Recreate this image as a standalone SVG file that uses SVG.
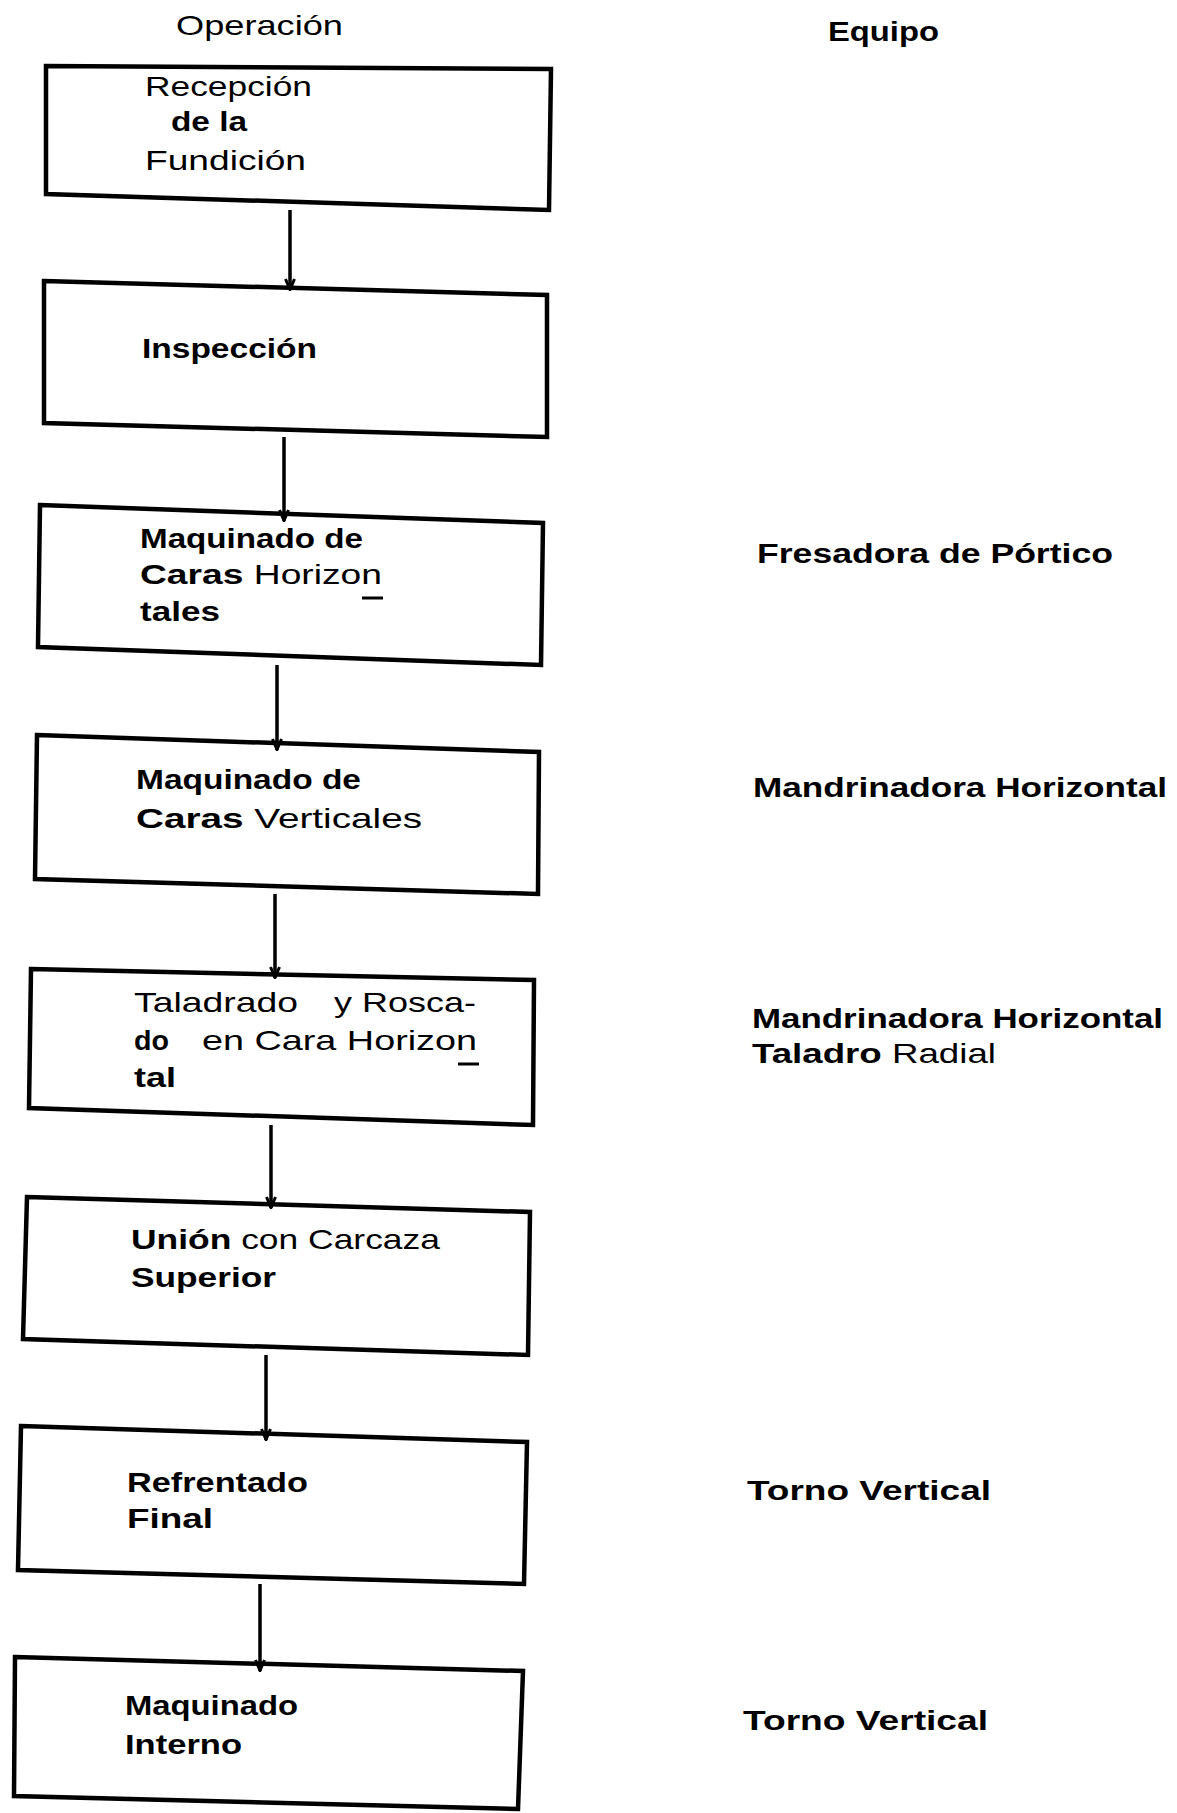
<svg xmlns="http://www.w3.org/2000/svg" width="1177" height="1813" viewBox="0 0 1177 1813">
  <style>
    .box { fill: none; stroke: #000; stroke-width: 4.5; stroke-linejoin: miter; }
    .arrow { stroke: #000; stroke-width: 3.5; fill: none; }
    text { font-family: "Liberation Sans", Arial, sans-serif; font-size: 28px; fill: #000; }
    .b { font-weight: bold; }
    .u { stroke: #000; stroke-width: 3; }
  </style>
  <defs>
    <!-- open V arrowhead, drawn pointing along +x so orient="auto" turns it down the line -->
    <marker id="head" viewBox="0 0 14 12" refX="13" refY="6" markerWidth="14" markerHeight="12" markerUnits="userSpaceOnUse" orient="auto">
      <path d="M2,1.5 L12.5,6 L2,10.5" fill="none" stroke="#000" stroke-width="3"/>
    </marker>
  </defs>
  <rect width="1177" height="1813" fill="#fff"/>

  <!-- column headings -->
  <text id="hdr-operacion" x="176" y="35" textLength="167" lengthAdjust="spacingAndGlyphs">Operación</text>
  <text id="hdr-equipo" class="b" x="828" y="41" textLength="111" lengthAdjust="spacingAndGlyphs">Equipo</text>

  <!-- connectors -->
  <g id="connectors">
    <line class="arrow" x1="290" y1="210" x2="290" y2="290" marker-end="url(#head)"/>
    <line class="arrow" x1="284" y1="437" x2="284" y2="521" marker-end="url(#head)"/>
    <line class="arrow" x1="277" y1="665" x2="277" y2="750" marker-end="url(#head)"/>
    <line class="arrow" x1="275" y1="894" x2="275" y2="978" marker-end="url(#head)"/>
    <line class="arrow" x1="271" y1="1125" x2="271" y2="1208" marker-end="url(#head)"/>
    <line class="arrow" x1="266" y1="1355" x2="266" y2="1440" marker-end="url(#head)"/>
    <line class="arrow" x1="260" y1="1584" x2="260" y2="1671" marker-end="url(#head)"/>
  </g>

  <g id="op1">
    <polygon class="box" points="46,66 551,69 549,210 46,194"/>
    <text x="145" y="96" textLength="167" lengthAdjust="spacingAndGlyphs">Recepción</text>
    <text class="b" x="171" y="131" textLength="76" lengthAdjust="spacingAndGlyphs">de la</text>
    <text x="145" y="170" textLength="161" lengthAdjust="spacingAndGlyphs">Fundición</text>
  </g>

  <g id="op2">
    <polygon class="box" points="44,281 547,295 547,437 44,423"/>
    <text class="b" x="142" y="358" textLength="175" lengthAdjust="spacingAndGlyphs">Inspección</text>
  </g>

  <g id="op3">
    <polygon class="box" points="40,505 543,523 541,665 38,647"/>
    <text class="b" x="140" y="548" textLength="223" lengthAdjust="spacingAndGlyphs">Maquinado de</text>
    <text x="140" y="584" textLength="242" lengthAdjust="spacingAndGlyphs"><tspan class="b">Caras</tspan> Horizon</text>
    <line class="u" x1="362" y1="598" x2="383" y2="598"/>
    <text class="b" x="140" y="621" textLength="80" lengthAdjust="spacingAndGlyphs">tales</text>
  </g>

  <g id="op4">
    <polygon class="box" points="37,735 539,752 538,894 35,879"/>
    <text class="b" x="136" y="789" textLength="225" lengthAdjust="spacingAndGlyphs">Maquinado de</text>
    <text x="136" y="828" textLength="286" lengthAdjust="spacingAndGlyphs"><tspan class="b">Caras</tspan> Verticales</text>
  </g>

  <g id="op5">
    <polygon class="box" points="31,969 534,980 533,1125 29,1108"/>
    <text x="134" y="1012" textLength="164" lengthAdjust="spacingAndGlyphs">Taladrado</text>
    <text x="334" y="1012" textLength="142" lengthAdjust="spacingAndGlyphs">y Rosca-</text>
    <text class="b" x="134" y="1050" textLength="35" lengthAdjust="spacingAndGlyphs">do</text>
    <text x="202" y="1050" textLength="275" lengthAdjust="spacingAndGlyphs">en Cara Horizon</text>
    <line class="u" x1="458" y1="1064" x2="479" y2="1064"/>
    <text class="b" x="134" y="1087" textLength="42" lengthAdjust="spacingAndGlyphs">tal</text>
  </g>

  <g id="op6">
    <polygon class="box" points="27,1197 530,1212 528,1355 23,1339"/>
    <text x="131" y="1249" textLength="309" lengthAdjust="spacingAndGlyphs"><tspan class="b">Unión</tspan> con Carcaza</text>
    <text class="b" x="131" y="1287" textLength="145" lengthAdjust="spacingAndGlyphs">Superior</text>
  </g>

  <g id="op7">
    <polygon class="box" points="21,1426 527,1442 524,1584 18,1570"/>
    <text class="b" x="127" y="1492" textLength="181" lengthAdjust="spacingAndGlyphs">Refrentado</text>
    <text class="b" x="127" y="1528" textLength="86" lengthAdjust="spacingAndGlyphs">Final</text>
  </g>

  <g id="op8">
    <polygon class="box" points="15,1657 523,1671 518,1809 14,1796"/>
    <text class="b" x="125" y="1715" textLength="173" lengthAdjust="spacingAndGlyphs">Maquinado</text>
    <text class="b" x="125" y="1754" textLength="117" lengthAdjust="spacingAndGlyphs">Interno</text>
  </g>

  <!-- equipment column -->
  <g id="eq3">
    <text class="b" x="757" y="563" textLength="356" lengthAdjust="spacingAndGlyphs">Fresadora de Pórtico</text>
  </g>
  <g id="eq4">
    <text class="b" x="753" y="797" textLength="414" lengthAdjust="spacingAndGlyphs">Mandrinadora Horizontal</text>
  </g>
  <g id="eq5">
    <text class="b" x="752" y="1028" textLength="411" lengthAdjust="spacingAndGlyphs">Mandrinadora Horizontal</text>
    <text x="752" y="1063" textLength="244" lengthAdjust="spacingAndGlyphs"><tspan class="b">Taladro</tspan> Radial</text>
  </g>
  <g id="eq7">
    <text class="b" x="747" y="1500" textLength="244" lengthAdjust="spacingAndGlyphs">Torno Vertical</text>
  </g>
  <g id="eq8">
    <text class="b" x="743" y="1730" textLength="245" lengthAdjust="spacingAndGlyphs">Torno Vertical</text>
  </g>
</svg>
